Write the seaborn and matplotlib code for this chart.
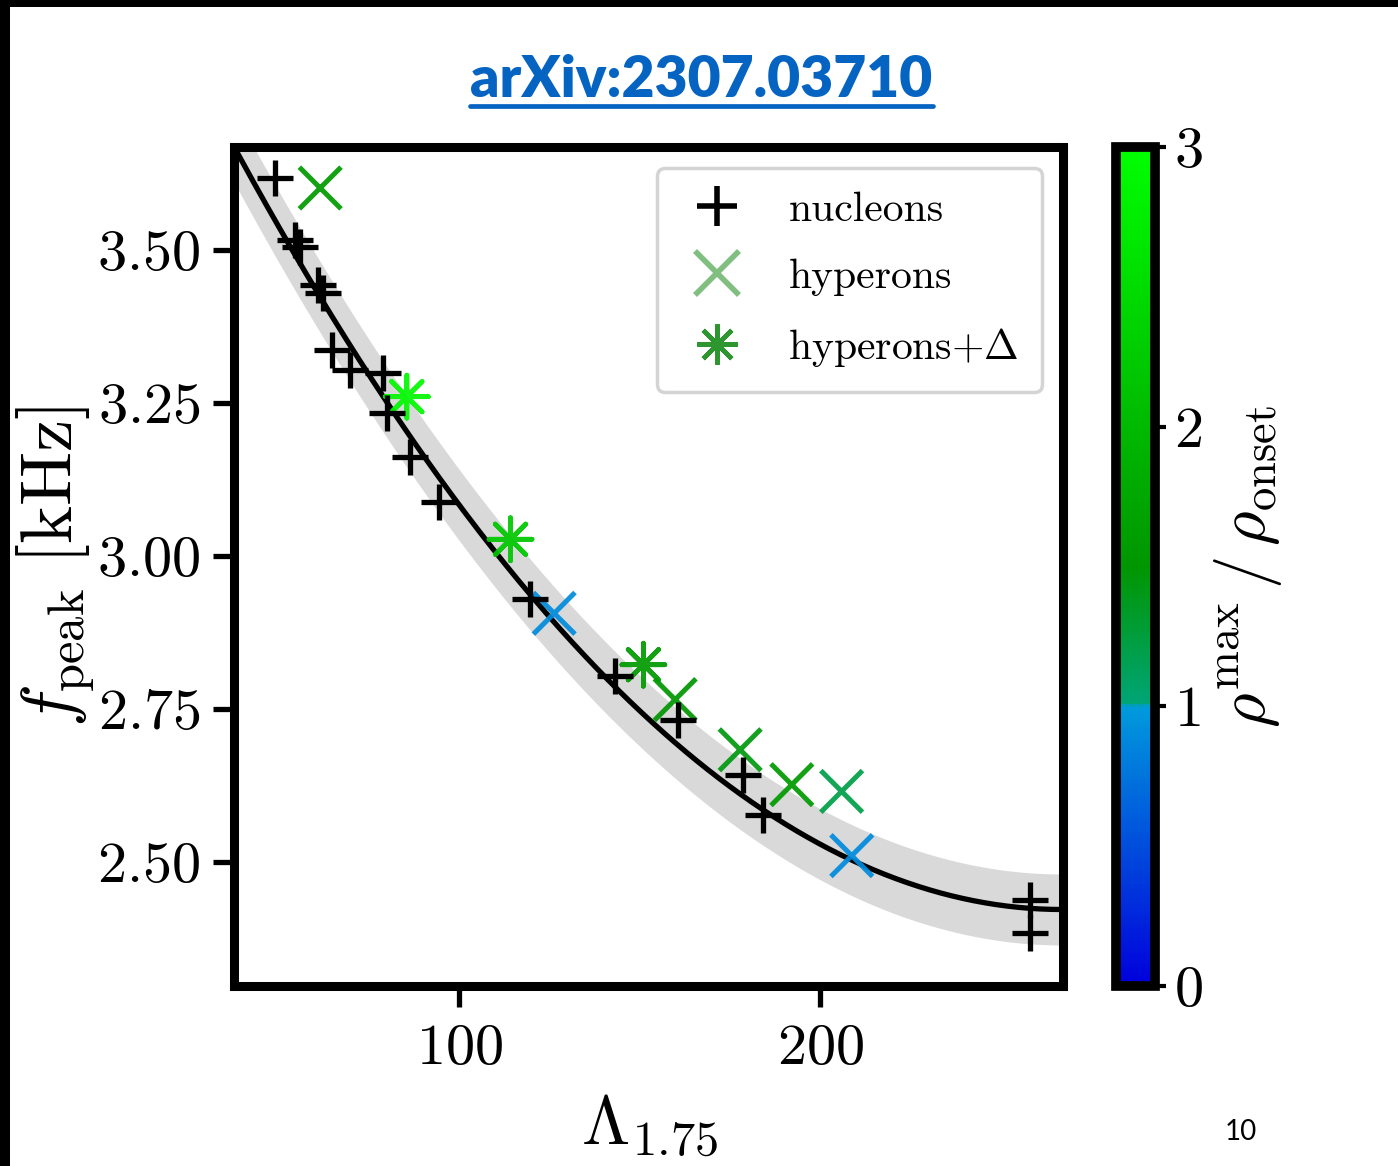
import numpy as np
import pandas as pd
import matplotlib
matplotlib.use("Agg")
import matplotlib.pyplot as plt
import seaborn as sns
from matplotlib.colors import LinearSegmentedColormap, Normalize
from matplotlib.lines import Line2D
from matplotlib.patches import Rectangle
import matplotlib.cm as cm

# ---------------- data ----------------
nuc_lambda = [49.0, 54.4, 55.8, 61.0, 62.4, 64.7, 69.8, 79.0, 79.9, 86.4, 94.5,
              119.6, 143.1, 160.7, 178.7, 184.2, 258.1, 258.1]
nuc_fpeak = [3.618, 3.516, 3.505, 3.443, 3.429, 3.337, 3.304, 3.299, 3.233, 3.162, 3.088,
             2.930, 2.803, 2.731, 2.642, 2.577, 2.438, 2.384]

hyp_lambda = [61.5, 126.3, 159.8, 177.8, 192.1, 205.9, 208.7]
hyp_fpeak = [3.601, 2.906, 2.765, 2.683, 2.626, 2.615, 2.510]
hyp_ratio = [1.55, 0.9, 1.5, 1.45, 1.55, 1.2, 0.9]

hd_lambda = [85.5, 114.2, 151.0]
hd_fpeak = [3.260, 3.027, 2.822]
hd_ratio = [2.9, 2.2, 1.55]

fit_coef = [4.1112, -0.0126487, 2.3678e-5]   # f = a + b*L + c*L^2
fit_halfwidth = 0.058

x_ticks = [100, 200]
y_ticks = [2.50, 2.75, 3.00, 3.25, 3.50]
cbar_ticks = [0, 1, 2, 3]
legend_labels = ["nucleons", "hyperons", r"hyperons$+\Delta$"]

# ---------------- style ----------------
sns.set_style("ticks")
plt.rcParams["font.family"] = ["cmr10", "DejaVu Serif"]
plt.rcParams["mathtext.fontset"] = "cm"
plt.rcParams["axes.formatter.use_mathtext"] = True
plt.rcParams["axes.unicode_minus"] = False
for k in ["text.color", "axes.labelcolor", "xtick.color", "ytick.color", "axes.edgecolor"]:
    plt.rcParams[k] = "black"

cmap = LinearSegmentedColormap.from_list(
    "rho", [(0.0, "#0000dc"), (0.3333, "#009bdc"), (0.3334, "#00a578"),
            (0.5, "#009600"), (1.0, "#00ff00")])
norm = Normalize(0, 3)

W, H = 1398, 1166
fig = plt.figure(figsize=(W / 100, H / 100), dpi=100)
fig.patch.set_facecolor("white")

ax = fig.add_axes([233.5 / W, 1 - 986 / H, (1063 - 233.5) / W, (986 - 147) / H])

# fit curve and band
L = np.linspace(30, 275, 400)
f_fit = fit_coef[0] + fit_coef[1] * L + fit_coef[2] * L ** 2
ax.fill_between(L, f_fit - fit_halfwidth, f_fit + fit_halfwidth, color="#d9d9d9", lw=0, zorder=1)
sns.lineplot(x=L, y=f_fit, color="black", lw=3.8, ax=ax, zorder=2, sort=False)

df_n = pd.DataFrame({"L": nuc_lambda, "f": nuc_fpeak})
df_h = pd.DataFrame({"L": hyp_lambda, "f": hyp_fpeak, "r": hyp_ratio})
df_d = pd.DataFrame({"L": hd_lambda, "f": hd_fpeak, "r": hd_ratio})

sns.scatterplot(data=df_n, x="L", y="f", color="black", marker="+", s=26 ** 2,
                linewidth=3.8, ax=ax, legend=False, zorder=4)
sns.scatterplot(data=df_h, x="L", y="f", hue="r", palette=cmap, hue_norm=norm,
                marker="x", s=30 ** 2, linewidth=3.6, ax=ax, legend=False, zorder=3, alpha=0.92)
sns.scatterplot(data=df_d, x="L", y="f", hue="r", palette=cmap, hue_norm=norm,
                marker=(8, 2, 0), s=31 ** 2, linewidth=3.4, ax=ax, legend=False, zorder=3, alpha=0.92)

ax.set_xlim(37.5, 267.2)
ax.set_ylim(2.297, 3.668)
ax.set_xticks(x_ticks)
ax.set_xticklabels([f"${t}$" for t in x_ticks])
ax.set_yticks(y_ticks)
ax.set_yticklabels([f"${t:.2f}$" for t in y_ticks])
for s in ax.spines.values():
    s.set_linewidth(6.5)
    s.set_color("black")
    s.set_visible(True)
ax.tick_params(axis="both", direction="out", length=15, width=3.8, labelsize=42, color="black",
               labelcolor="black")
ax.tick_params(axis="x", pad=12)
ax.tick_params(axis="y", pad=9)

ax.set_xlabel(r"$\Lambda_{1.75}$", fontsize=50)
ax.set_ylabel(r"$f_{\rm peak}\ [\rm kHz]$", fontsize=52)
ax.xaxis.set_label_coords(0.502, -0.127)
ax.yaxis.set_label_coords(-0.165, 0.5)

# legend
handles = [
    Line2D([], [], ls="none", marker="+", color="black", ms=29, mew=4.0),
    Line2D([], [], ls="none", marker="x", color=(0.5, 0.75, 0.5), ms=31, mew=4.0),
    Line2D([], [], ls="none", marker=(8, 2, 0), color=(0.18, 0.59, 0.18), ms=29, mew=3.2),
]
leg = ax.legend(handles, legend_labels, loc="upper right", fontsize=30, frameon=True,
                fancybox=True, borderaxespad=0.5, handlelength=1.8, handletextpad=0.8,
                labelspacing=0.72, borderpad=0.56)
leg.get_frame().set_edgecolor("#d4d4d4")
leg.get_frame().set_linewidth(2.5)
leg.get_frame().set_alpha(1)

# colorbar
cax = fig.add_axes([1115.5 / W, 1 - 986 / H, 39.2 / W, (986 - 147) / H])
cb = fig.colorbar(cm.ScalarMappable(norm=norm, cmap=cmap), cax=cax)
cb.set_ticks(cbar_ticks)
cb.set_ticklabels([f"${t}$" for t in cbar_ticks])
cb.outline.set_linewidth(7)
cb.outline.set_edgecolor("black")
cax.tick_params(direction="out", length=8, width=3, labelsize=42, pad=6, color="black",
                labelcolor="black")
cb.set_label(r"$\rho^{\rm max}\,/\,\rho_{\rm onset}$", fontsize=48)
cax.yaxis.set_label_coords(2.45, 0.5)

# title with underline
title = fig.text(701.5 / W, 1 - 97 / H, "arXiv:2307.03710", ha="center", va="baseline",
                 fontsize=41, fontweight="heavy", family=["Lato", "DejaVu Sans"], color="#0563C1")
fig.canvas.draw()
bb = title.get_window_extent(fig.canvas.get_renderer())
fig.add_artist(Line2D([bb.x0 / W, bb.x1 / W], [1 - 106 / H, 1 - 106 / H],
                      color="#0563C1", lw=3.4, transform=fig.transFigure))

# page number
fig.text(1241 / W, 1 - 1140 / H, "10", ha="center", va="baseline", fontsize=20,
         family=["Lato", "DejaVu Sans"], color="black")

# slide border
fig.add_artist(Rectangle((0, 1 - 7 / H), 1, 7 / H, transform=fig.transFigure,
                         color="black", lw=0, zorder=10))
fig.add_artist(Rectangle((0, 0), 10 / W, 1, transform=fig.transFigure,
                         color="black", lw=0, zorder=10))

fig.savefig("out.png", dpi=100)
